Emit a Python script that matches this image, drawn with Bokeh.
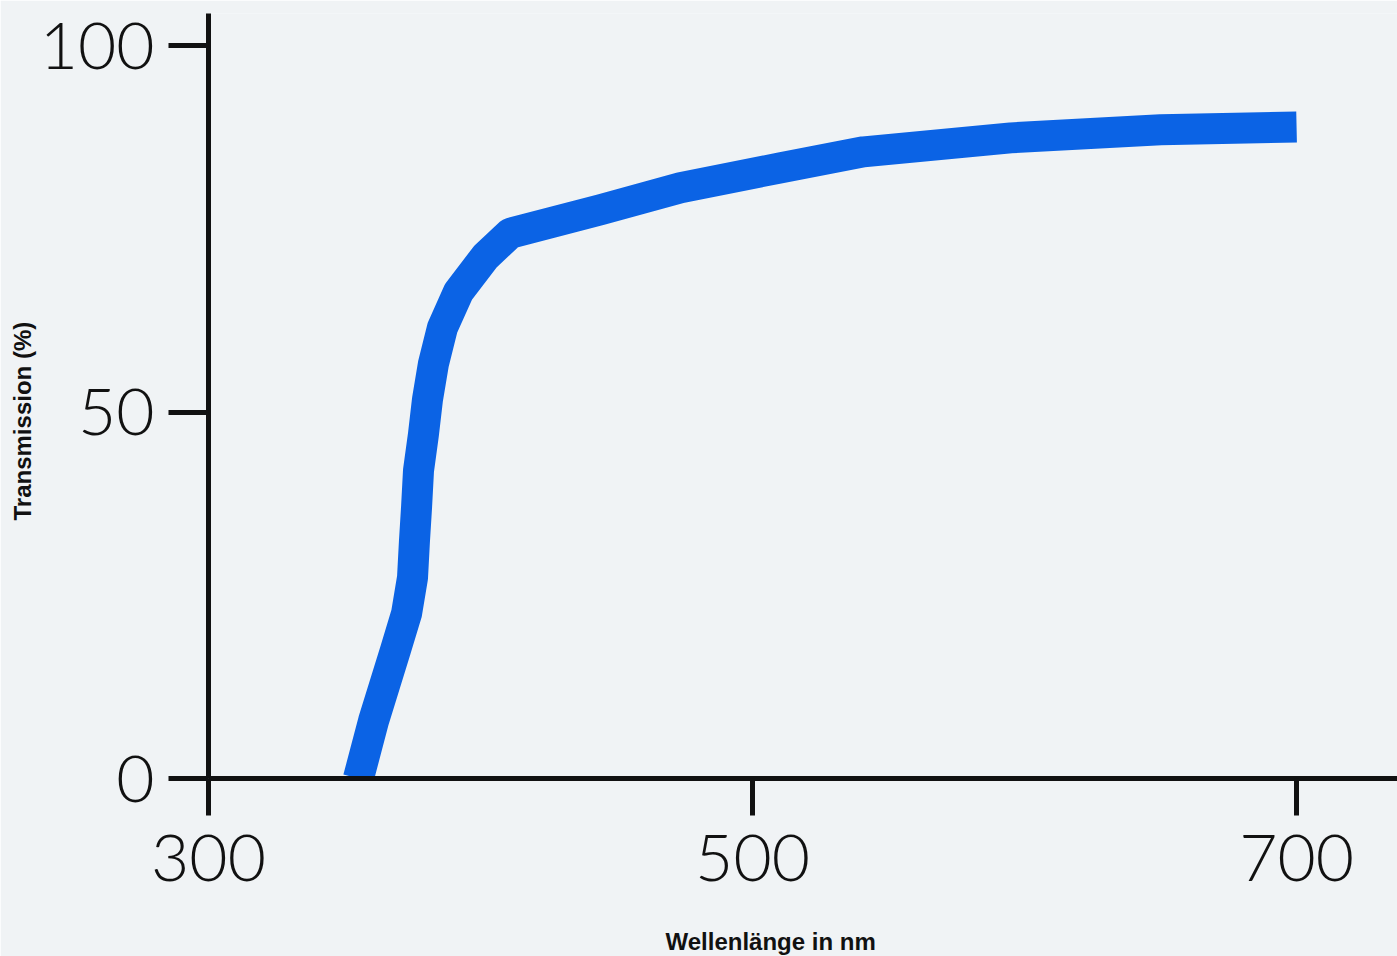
from bokeh.plotting import figure
from bokeh.models import Range1d, FixedTicker, Title, LinearAxis
from bokeh.embed import file_html
from bokeh.resources import INLINE

# ---- data ----
wavelength = [355.1, 360.7, 368.8, 372.8, 375.0, 375.7, 376.5, 377.2, 379.0,
              380.5, 382.7, 386.0, 391.9, 401.8, 411.0, 444.1, 473.5, 510.0,
              540.8, 594.9, 650.0, 700.0]
transmission = [0, 7.9, 17.6, 22.5, 27.4, 32.3, 37.1, 42.0, 46.9,
                51.7, 56.6, 61.5, 66.4, 71.2, 74.4, 77.6, 80.6, 83.3,
                85.5, 87.4, 88.5, 88.9]

x_ticks = [300, 500, 700]
y_ticks = [0, 50, 100]
x_title = "Wellenlänge in nm"
y_title = "Transmission (%)"

PANEL = "#f0f3f5"
INK = "#111111"
BLUE = "#0b63e5"

p = figure(width=1397, height=956, output_backend="svg", toolbar_location=None,
           x_range=Range1d(300, 737.1), y_range=Range1d(0, 104.37),
           min_border_left=208, min_border_right=0, min_border_top=13,
           min_border_bottom=178, border_fill_color=PANEL,
           background_fill_color=PANEL, outline_line_color=None)

p.xgrid.visible = False
p.ygrid.visible = False

p.line(wavelength, transmission, line_width=31, line_color=BLUE,
       line_cap="butt", line_join="round")

for ax in (p.xaxis[0], p.yaxis[0]):
    ax.axis_line_width = 5
    ax.axis_line_color = INK
    ax.major_tick_line_width = 5
    ax.major_tick_line_color = INK
    ax.major_tick_in = 0
    ax.minor_tick_in = 0
    ax.minor_tick_out = 0
    ax.major_label_text_font = "Lato Light"
    ax.major_label_text_font_size = "66px"
    ax.major_label_text_color = INK

p.xaxis[0].ticker = FixedTicker(ticks=x_ticks)
p.yaxis[0].ticker = FixedTicker(ticks=y_ticks)
p.xaxis[0].major_tick_out = 37
p.xaxis[0].major_label_standoff = 19
p.yaxis[0].major_tick_out = 40
p.yaxis[0].major_label_standoff = 14

# invisible spacer between the tick labels and the x title
spacer = LinearAxis(ticker=FixedTicker(ticks=[x_ticks[1]]),
                    major_label_overrides={x_ticks[1]: ""},
                    axis_line_color=None, major_tick_line_color=PANEL,
                    major_tick_out=42, major_tick_in=0, minor_tick_out=0,
                    minor_tick_in=0, major_label_standoff=0,
                    major_label_text_font_size="1px")
p.add_layout(spacer, "below")

title_style = dict(text_font="Liberation Sans", text_font_style="bold",
                   text_font_size="24px", text_color=INK)
xt = Title(text=x_title, align="left", offset=457, standoff=0, **title_style)
p.add_layout(xt, "below")
yt = Title(text=y_title, align="left", offset=258, standoff=1, **title_style)
p.add_layout(yt, "left")

open("out.html", "w").write(file_html(p, INLINE))
